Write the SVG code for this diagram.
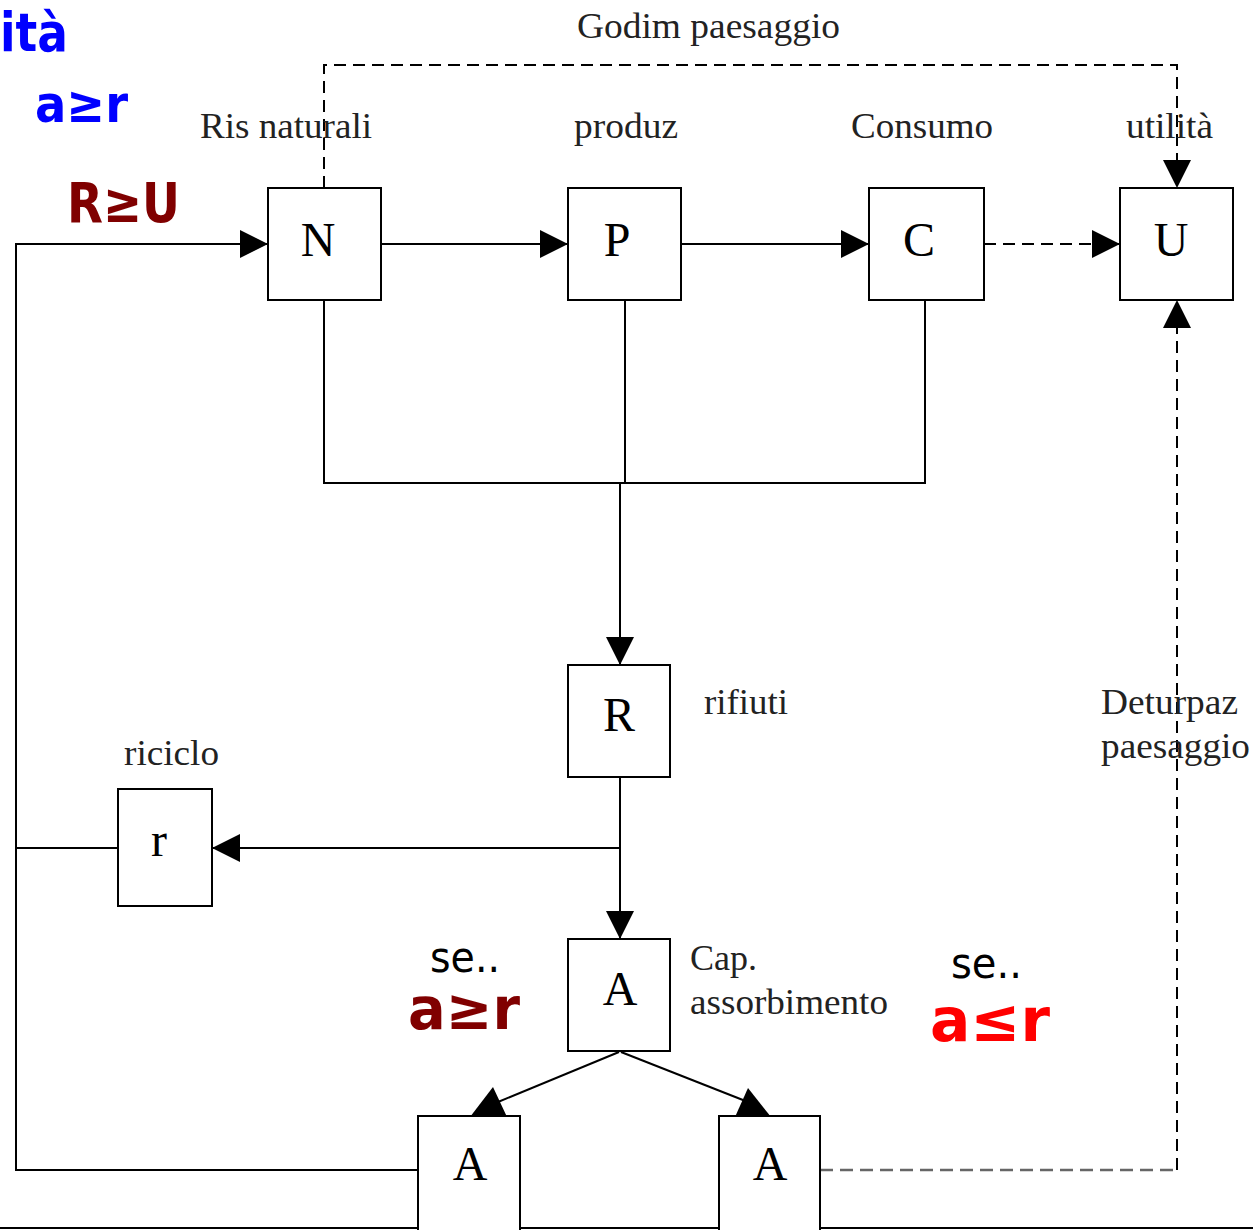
<svg xmlns="http://www.w3.org/2000/svg" width="1253" height="1230" viewBox="0 0 1253 1230">
<style>
.box{fill:#fff;stroke:#000;stroke-width:2}
.ln{fill:none;stroke:#000;stroke-width:2}
.dash{fill:none;stroke:#000;stroke-width:2;stroke-dasharray:12 7}
.dashg{fill:none;stroke:#666;stroke-width:2.5;stroke-dasharray:13 7}
.sym{font-family:"Liberation Serif",serif;font-size:48px;fill:#000;text-anchor:middle}
.lbl{font-family:"Liberation Serif",serif;font-size:36px;fill:#222}
.hw{font-family:"DejaVu Sans",sans-serif;font-weight:bold}
.se{font-family:"DejaVu Sans",sans-serif;font-size:42px;fill:#000}
</style>
<defs>
<marker id="arr" viewBox="0 0 10 10" refX="10" refY="5" markerUnits="userSpaceOnUse" markerWidth="32" markerHeight="28" orient="auto">
<path d="M0,0 L10,5 L0,10 z" fill="#000"/>
</marker>
</defs>
<rect width="1253" height="1230" fill="#fff"/>
<g id="connectors">
<path class="ln" d="M381,244 H568" marker-end="url(#arr)"/>
<path class="ln" d="M681,244 H869" marker-end="url(#arr)"/>
<path class="dash" d="M984,244 H1120" marker-end="url(#arr)"/>
<path class="dash" d="M324,188 V65 H1177 V188" marker-end="url(#arr)"/>
<path class="dashg" d="M820,1170 H1177"/>
<path class="dash" d="M1177,1170 V300" marker-end="url(#arr)"/>
<path class="ln" d="M324,300 V483 H925 V300"/>
<path class="ln" d="M625,300 V483"/>
<path class="ln" d="M620,483 V665" marker-end="url(#arr)"/>
<path class="ln" d="M620,777 V939" marker-end="url(#arr)"/>
<path class="ln" d="M620,848 H212" marker-end="url(#arr)"/>
<path class="ln" d="M118,848 H16"/>
<path class="ln" d="M418,1170 H16 V244 H268" marker-end="url(#arr)"/>
<path class="ln" d="M619,1052 L498,1102"/>
<polygon points="470,1117 507,1117 493,1087" fill="#000"/>
<path class="ln" d="M621,1052 L748,1102"/>
<polygon points="735,1117 771,1117 748,1088" fill="#000"/>
<path class="ln" d="M0,1228 H1253"/>
</g>
<g id="node-N"><rect class="box" x="268" y="188" width="113" height="112"/><text class="sym" x="318" y="256">N</text></g>
<g id="node-P"><rect class="box" x="568" y="188" width="113" height="112"/><text class="sym" x="617" y="256">P</text></g>
<g id="node-C"><rect class="box" x="869" y="188" width="115" height="112"/><text class="sym" x="919" y="256">C</text></g>
<g id="node-U"><rect class="box" x="1120" y="188" width="113" height="112"/><text class="sym" x="1171" y="256">U</text></g>
<g id="node-R"><rect class="box" x="568" y="665" width="102" height="112"/><text class="sym" x="619" y="731">R</text></g>
<g id="node-r"><rect class="box" x="118" y="789" width="94" height="117"/><text class="sym" x="159" y="856">r</text></g>
<g id="node-A"><rect class="box" x="568" y="939" width="102" height="112"/><text class="sym" x="620" y="1005">A</text></g>
<g id="node-A-left"><rect class="box" x="418" y="1116" width="102" height="120"/><text class="sym" x="470" y="1180">A</text></g>
<g id="node-A-right"><rect class="box" x="719" y="1116" width="101" height="120"/><text class="sym" x="770" y="1180">A</text></g>
<g id="labels">
<text class="lbl" x="577" y="38" textLength="263" lengthAdjust="spacingAndGlyphs">Godim paesaggio</text>
<text class="lbl" x="200" y="138" textLength="172" lengthAdjust="spacingAndGlyphs">Ris naturali</text>
<text class="lbl" x="574" y="138" textLength="104" lengthAdjust="spacingAndGlyphs">produz</text>
<text class="lbl" x="851" y="138" textLength="142" lengthAdjust="spacingAndGlyphs">Consumo</text>
<text class="lbl" x="1126" y="138" textLength="87" lengthAdjust="spacingAndGlyphs">utilità</text>
<text class="lbl" x="704" y="714" textLength="84" lengthAdjust="spacingAndGlyphs">rifiuti</text>
<text class="lbl" x="124" y="765" textLength="95" lengthAdjust="spacingAndGlyphs">riciclo</text>
<text class="lbl" x="690" y="970" textLength="67" lengthAdjust="spacingAndGlyphs">Cap.</text>
<text class="lbl" x="690" y="1014" textLength="198" lengthAdjust="spacingAndGlyphs">assorbimento</text>
<text class="lbl" x="1101" y="714" textLength="137" lengthAdjust="spacingAndGlyphs">Deturpaz</text>
<text class="lbl" x="1101" y="758" textLength="149" lengthAdjust="spacingAndGlyphs">paesaggio</text>
<text class="hw" x="0" y="51" font-size="54" fill="#0000ff" textLength="68" lengthAdjust="spacingAndGlyphs">ità</text>
<text class="hw" x="35" y="122" font-size="52" fill="#0000ff" textLength="93" lengthAdjust="spacingAndGlyphs">a≥r</text>
<text class="hw" x="67" y="222" font-size="56" fill="#800000" textLength="113" lengthAdjust="spacingAndGlyphs">R≥U</text>
<text class="se" x="430" y="972" textLength="70" lengthAdjust="spacingAndGlyphs">se..</text>
<text class="hw" x="408" y="1029" font-size="58" fill="#800000" textLength="112" lengthAdjust="spacingAndGlyphs">a≥r</text>
<text class="se" x="951" y="978" textLength="71" lengthAdjust="spacingAndGlyphs">se..</text>
<text class="hw" x="930" y="1041" font-size="60" fill="#ff0000" textLength="120" lengthAdjust="spacingAndGlyphs">a≤r</text>
</g>
</svg>
